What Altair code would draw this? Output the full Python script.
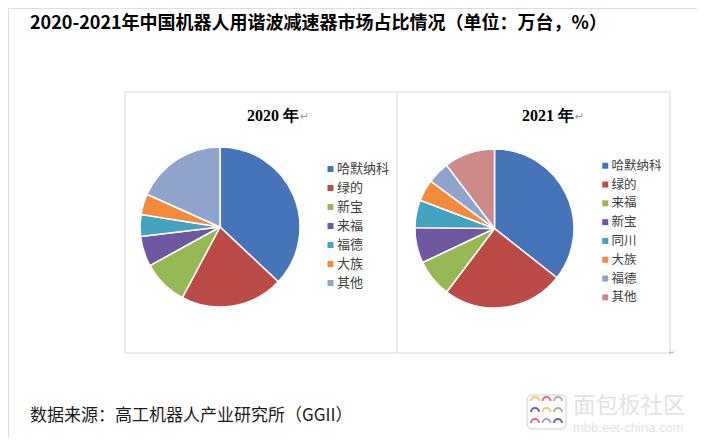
import altair as alt
import pandas as pd

# ---- data ----
companies_2020 = ["哈默纳科", "绿的", "新宝", "来福", "福德", "大族", "其他"]
share_2020 = [37.0, 20.8, 9.2, 6.1, 4.4, 4.2, 18.3]

companies_2021 = ["哈默纳科", "绿的", "来福", "新宝", "同川", "大族", "福德", "其他"]
share_2021 = [35.6, 24.6, 7.7, 7.2, 5.6, 4.4, 4.5, 10.3]

colors_2020 = ["#4674B8", "#BC4B48", "#97B955", "#7058A0", "#44A3BE", "#F38B3A", "#8EA4CC"]
colors_2021 = ["#4674B8", "#BC4B48", "#97B955", "#7058A0", "#44A3BE", "#F38B3A", "#8EA4CC", "#CC8B89"]

main_title = "2020-2021年中国机器人用谐波减速器市场占比情况（单位：万台，%）"
source_text = "数据来源：高工机器人产业研究所（GGII）"
panel_titles = ["2020 年", "2021 年"]

df20 = pd.DataFrame({"company": companies_2020, "share": share_2020,
                     "idx": list(range(len(companies_2020)))})
df21 = pd.DataFrame({"company": companies_2021, "share": share_2021,
                     "idx": list(range(len(companies_2021)))})

CJK = "Noto Sans CJK SC"
one = pd.DataFrame({"a": [0]})


def text_layer(txt, x, y, size, color="#000000", weight="normal", font=CJK, align="left"):
    return alt.Chart(pd.DataFrame({"t": [txt]})).mark_text(
        align=align, baseline="middle", fontSize=size, font=font,
        fontWeight=weight, color=color
    ).encode(text="t:N", x=alt.value(x), y=alt.value(y))


def legend(x, y, size, pad):
    return alt.Legend(
        title=None, orient="none", legendX=x, legendY=y, padding=0,
        symbolType="square", symbolSize=36, symbolStrokeWidth=0,
        labelFont=CJK, labelFontSize=size, labelColor="#404040",
        labelOffset=0, rowPadding=pad
    )


# frame
frame = alt.Chart(one).mark_rect(filled=False, stroke="#d6d6d6", strokeWidth=1).encode(
    x=alt.value(117), x2=alt.value(662), y=alt.value(84), y2=alt.value(345))
divider = alt.Chart(one).mark_rule(stroke="#d6d6d6", strokeWidth=1).encode(
    x=alt.value(389), y=alt.value(84), y2=alt.value(345))

pie20 = alt.Chart(df20).mark_arc(outerRadius=80, stroke="white", strokeWidth=1.5).encode(
    theta=alt.Theta("share:Q", stack=True),
    order=alt.Order("idx:Q"),
    color=alt.Color("company:N",
                    scale=alt.Scale(domain=companies_2020, range=colors_2020),
                    legend=legend(316, 154.5, 13, 5)),
    x=alt.value(212), y=alt.value(219),
)

pie21 = alt.Chart(df21).mark_arc(outerRadius=79.5, stroke="white", strokeWidth=1.5).encode(
    theta=alt.Theta("share:Q", stack=True),
    order=alt.Order("idx:Q"),
    color=alt.Color("company:N",
                    scale=alt.Scale(domain=companies_2021, range=colors_2021),
                    legend=legend(591, 151.5, 12.5, 5.8)),
    x=alt.value(486.5), y=alt.value(220.5),
)

t20 = text_layer(panel_titles[0], 265, 108, 16, weight="bold",
                 font="Liberation Serif", align="center")
t21 = text_layer(panel_titles[1], 540, 108, 16, weight="bold",
                 font="Liberation Serif", align="center")
r20 = text_layer("↵", 292, 109, 11, color="#9a9a9a", font="DejaVu Sans")
r21 = text_layer("↵", 567, 109, 11, color="#9a9a9a", font="DejaVu Sans")
rbox = text_layer("↵", 661, 345, 7, color="#9a9a9a", font="DejaVu Sans")

title = text_layer(main_title, 22, 16, 18, weight="bold")
source = text_layer(source_text, 22, 408, 17, color="#1a1a1a")

# site watermark (bottom right)
icon = alt.Chart(one).mark_rect(fill="white", stroke="#cfcfcf", strokeWidth=1,
                                cornerRadius=5).encode(
    x=alt.value(519), x2=alt.value(558), y=alt.value(387), y2=alt.value(421))

ring_cols = ["#F2C14E", "#E0506A", "#9A9AA5",
             "#4A4F8C", "#F2C14E", "#9A9AA5",
             "#E0506A", "#9A9AA5", "#4A4F8C"]
rings = []
k = 0
for cy in (393, 404, 415):
    for cx in (527, 538.5, 550):
        rings.append(
            alt.Chart(one).mark_arc(innerRadius=3, outerRadius=5, color=ring_cols[k],
                                    opacity=0.85, theta=4.712, theta2=7.854)
            .encode(x=alt.value(cx), y=alt.value(cy))
        )
        k += 1

wm1 = text_layer("面包板社区", 565, 398, 22.5, color="#e2e2e2")
wm2 = text_layer("mbb.eet-china.com", 565, 420, 13, color="#e2e2e2", font="Liberation Sans")

chart = alt.layer(
    frame, divider, pie20, pie21, t20, t21, r20, r21, rbox, title, source, icon,
    *rings, wm1, wm2
).resolve_scale(
    color="independent", theta="independent"
).properties(
    width=689, height=430, autosize="none", padding=0
).configure_view(stroke=None).configure(background="white")

chart.save("out.html", embed_options={"renderer": "svg", "actions": False})
